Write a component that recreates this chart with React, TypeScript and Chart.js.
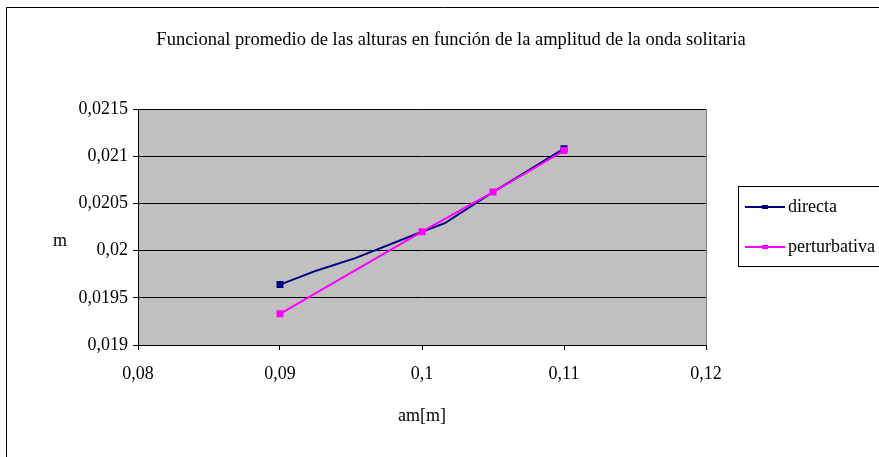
import React, { useEffect, useRef } from "react";
import { Chart, registerables } from "chart.js";

Chart.register(...registerables);

const titleText = "Funcional promedio de las alturas en función de la amplitud de la onda solitaria";
const xAxisTitle = "am[m]";
const yAxisTitle = "m";

const xTickLabels = ["0,08", "0,09", "0,1", "0,11", "0,12"];
const yTickLabels = ["0,019", "0,0195", "0,02", "0,0205", "0,021", "0,0215"];

const seriesNames = ["directa", "perturbativa"];
const seriesColors = ["#000080", "#FF00FF"];

const directaX = [0.09, 0.0926, 0.0953, 0.1, 0.1016, 0.105, 0.11];
const directaY = [0.01964, 0.01979, 0.01992, 0.0202, 0.02029, 0.02062, 0.02108];

const perturbativaX = [0.09, 0.1, 0.105, 0.11];
const perturbativaY = [0.01933, 0.0202, 0.02062, 0.02106];

const FONT = "'Liberation Serif', 'Times New Roman', serif";

const decorPlugin = {
  id: "decor",
  beforeDraw(chart: any) {
    const { ctx, chartArea } = chart;
    ctx.save();
    ctx.fillStyle = "#ffffff";
    ctx.fillRect(0, 0, chart.width, chart.height);
    // outer frame
    ctx.strokeStyle = "#000000";
    ctx.lineWidth = 1;
    ctx.beginPath();
    ctx.moveTo(6.5, chart.height + 2);
    ctx.lineTo(6.5, 7.5);
    ctx.lineTo(chart.width + 2, 7.5);
    ctx.stroke();
    // plot area
    ctx.fillStyle = "#C0C0C0";
    ctx.fillRect(chartArea.left, chartArea.top, chartArea.right - chartArea.left, chartArea.bottom - chartArea.top);
    ctx.strokeStyle = "#808080";
    ctx.strokeRect(chartArea.left + 0.5, chartArea.top + 0.5, chartArea.right - chartArea.left, chartArea.bottom - chartArea.top);
    ctx.restore();
  },
  afterDraw(chart: any) {
    const { ctx } = chart;
    ctx.save();
    ctx.fillStyle = "#000000";
    ctx.textBaseline = "middle";
    // title
    ctx.font = `18.5px ${FONT}`;
    ctx.textAlign = "center";
    ctx.fillText(titleText, 451, 40);
    // axis titles
    ctx.font = `18px ${FONT}`;
    ctx.fillText(xAxisTitle, 422, 416);
    ctx.fillText(yAxisTitle, 60, 241);
    // legend
    const lx = 738.5, ly = 186.5;
    ctx.strokeStyle = "#000000";
    ctx.lineWidth = 1;
    ctx.strokeRect(lx, ly, 200, 80);
    const rows = [207, 247];
    chart.data.datasets.forEach((ds: any) => {
      const idx = seriesNames.indexOf(ds.label);
      const y = rows[idx];
      ctx.strokeStyle = ds.borderColor;
      ctx.lineWidth = 2;
      ctx.beginPath();
      ctx.moveTo(745, y);
      ctx.lineTo(785, y);
      ctx.stroke();
      ctx.fillStyle = ds.borderColor;
      ctx.fillRect(762, y - 2, 6, 4);
      ctx.fillStyle = "#000000";
      ctx.textAlign = "left";
      ctx.font = `18px ${FONT}`;
      ctx.fillText(ds.label, 788, y);
    });
    ctx.restore();
  },
};

export default function App() {
  const ref = useRef<HTMLCanvasElement>(null);
  useEffect(() => {
    if (!ref.current) return;
    const chart = new Chart(ref.current, {
      type: "line",
      data: {
        datasets: [
          {
            label: seriesNames[0],
            data: directaX.map((x, i) => ({ x, y: directaY[i] })),
            borderColor: seriesColors[0],
            backgroundColor: seriesColors[0],
            borderWidth: 2,
            pointStyle: "rect",
            pointRadius: (c: any) => (c.dataIndex === 0 || c.dataIndex === directaX.length - 1 ? 3.5 : 0),
            tension: 0,
            order: 1,
          },
          {
            label: seriesNames[1],
            data: perturbativaX.map((x, i) => ({ x, y: perturbativaY[i] })),
            borderColor: seriesColors[1],
            backgroundColor: seriesColors[1],
            borderWidth: 2,
            pointStyle: "rect",
            pointRadius: 3.5,
            tension: 0,
            order: 0,
          },
        ],
      },
      options: {
        animation: false,
        responsive: false,
        layout: { padding: { left: 0, top: 109, right: 173, bottom: 0 } },
        plugins: { legend: { display: false }, tooltip: { enabled: false }, title: { display: false } },
        scales: {
          x: {
            type: "linear",
            min: 0.08,
            max: 0.12,
            ticks: {
              stepSize: 0.01,
              color: "#000",
              font: { family: FONT, size: 18 },
              padding: 13,
              maxRotation: 0,
              callback: (_v: any, i: number) => xTickLabels[i],
            },
            grid: { drawOnChartArea: false, drawTicks: true, tickLength: 5, color: "#000" },
            border: { display: true, color: "#000", width: 1 },
            afterFit: (s: any) => { s.height = 457 - 345; },
          },
          y: {
            type: "linear",
            min: 0.019,
            max: 0.0215,
            ticks: {
              stepSize: 0.0005,
              color: "#000",
              font: { family: FONT, size: 18 },
              padding: 5,
              callback: (_v: any, i: number) => yTickLabels[i],
            },
            grid: { drawOnChartArea: true, drawTicks: true, tickLength: 5, color: "#000" },
            border: { display: true, color: "#000", width: 1 },
            afterFit: (s: any) => { s.width = 138; },
          },
        },
      },
      plugins: [decorPlugin],
    });
    return () => chart.destroy();
  }, []);
  return (
    <div style={{ position: "fixed", left: 0, top: 0, width: 879, height: 457 }}>
      <canvas ref={ref} width={879} height={457} style={{ display: "block" }} />
    </div>
  );
}
